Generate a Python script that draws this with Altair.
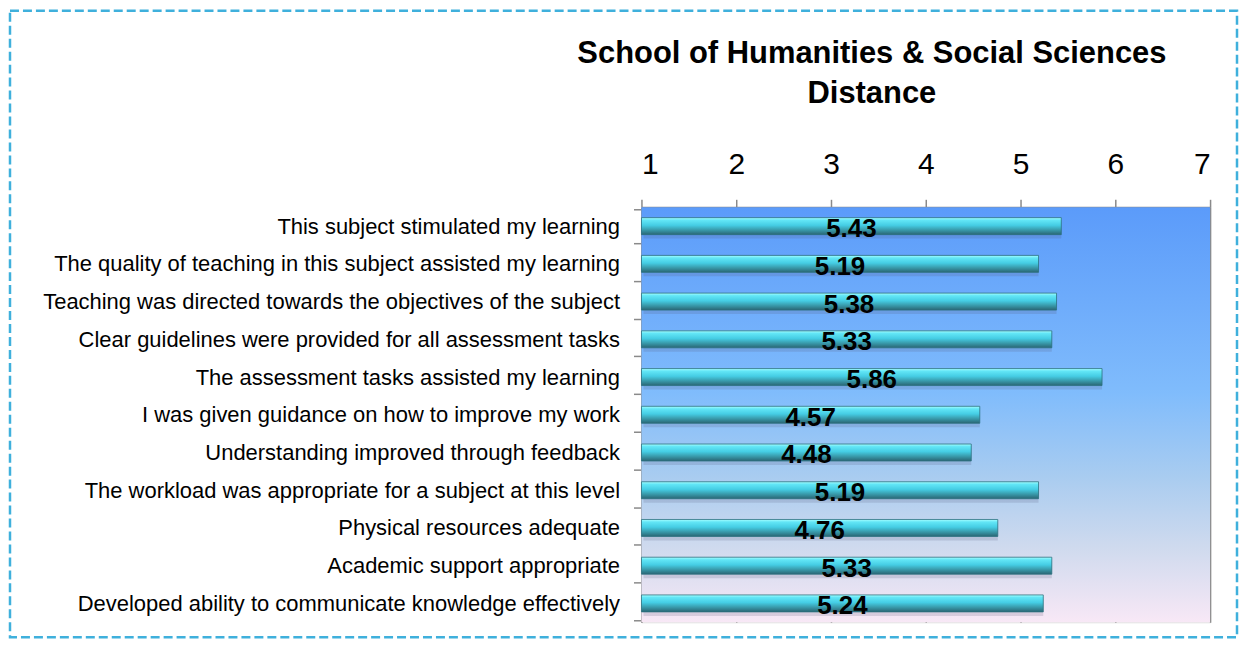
import altair as alt
import pandas as pd

categories = [
    "This subject stimulated my learning ",
    "The quality of teaching in this subject assisted my learning",
    "Teaching was directed towards the objectives of the subject",
    "Clear guidelines were provided for all assessment tasks",
    "The assessment tasks assisted my learning",
    "I was given guidance on how to improve my work",
    "Understanding improved through feedback",
    "The workload was appropriate for a subject at this level",
    "Physical resources adequate",
    "Academic support appropriate",
    "Developed ability to communicate knowledge effectively ",
]
values = [5.43, 5.19, 5.38, 5.33, 5.86, 4.57, 4.48, 5.19, 4.76, 5.33, 5.24]
x_ticks = [1, 2, 3, 4, 5, 6, 7]
title_lines = ["School of Humanities & Social Sciences", "Distance"]

FONT = "Liberation Sans, Arial"
W, H = 570, 416

df = pd.DataFrame({"q": categories, "v": values})
df["base"] = 1
df["mid"] = (df["base"] + df["v"]) / 2
one = pd.DataFrame({"a": [0]})

bg_grad = alt.Gradient(
    gradient="linear", x1=0, x2=0, y1=0, y2=1,
    stops=[
        alt.GradientStop(color="#5B9BFA", offset=0),
        alt.GradientStop(color="#80BCFC", offset=0.45),
        alt.GradientStop(color="#A9CCF0", offset=0.65),
        alt.GradientStop(color="#CFDAEE", offset=0.82),
        alt.GradientStop(color="#F8E8F6", offset=1),
    ],
)
bar_grad = alt.Gradient(
    gradient="linear", x1=0, x2=0, y1=0, y2=1,
    stops=[
        alt.GradientStop(color="#A8FFFF", offset=0),
        alt.GradientStop(color="#62E6F6", offset=0.15),
        alt.GradientStop(color="#45CDE4", offset=0.45),
        alt.GradientStop(color="#3A9FB0", offset=0.7),
        alt.GradientStop(color="#2A6674", offset=1),
    ],
)

xscale = alt.Scale(domain=[1, 7], nice=False, zero=False)
yenc = alt.Y("q:N", sort=categories, title=None,
             axis=alt.Axis(labelFont=FONT, labelFontSize=22, labelColor="black",
                           domainColor="#8a8a8a", domainWidth=1.5,
                           tickColor="#8a8a8a", tickWidth=1.5, tickSize=8,
                           tickBand="extent", labelPadding=14, labelLimit=800))

bg = alt.Chart(one).mark_rect(fill=bg_grad).encode(
    x=alt.value(0), x2=alt.value(W), y=alt.value(0), y2=alt.value(H))

border = alt.Chart(one).mark_rect(
    fill="transparent", stroke="#3FB0DC", strokeWidth=2.5, strokeDash=[9, 4]
).encode(x=alt.value(-633), x2=alt.value(597), y=alt.value(-197), y2=alt.value(431))

shadow = alt.Chart(df).mark_bar(size=17, color="#555577", opacity=0.18, yOffset=4, xOffset=2).encode(
    y=yenc, x=alt.X("base:Q", scale=xscale), x2="v:Q")

bars = alt.Chart(df).mark_bar(size=17, fill=bar_grad, stroke="#2C7180", strokeWidth=0.8).encode(
    y=yenc,
    x=alt.X("base:Q", scale=xscale, title=None,
            axis=alt.Axis(orient="top", values=x_ticks, format="d",
                          labelFont=FONT, labelFontSize=30, labelColor="black",
                          labelPadding=20, grid=True, gridColor="#8a8a8a", gridWidth=1.5,
                          domainColor="#8a8a8a", domainWidth=2,
                          tickColor="#8a8a8a", tickWidth=1.5, tickSize=8)),
    x2="v:Q",
)

labels = alt.Chart(df).mark_text(
    font=FONT, fontWeight="bold", fontSize=26, color="black", dy=3
).encode(y=yenc, x=alt.X("mid:Q", scale=xscale), text=alt.Text("v:Q", format=".2f"))

chart = alt.layer(bg, shadow, bars, labels, border).properties(
    width=W, height=H, padding=0,
    title=alt.TitleParams(text=title_lines, font=FONT, fontSize=31,
                          fontWeight="bold", color="black", anchor="middle", frame="group",
                          dx=-54, offset=-101, lineHeight=40),
).configure_view(stroke=None).configure(background="white")

chart.save("out.html", embed_options={"renderer": "svg", "actions": False})
